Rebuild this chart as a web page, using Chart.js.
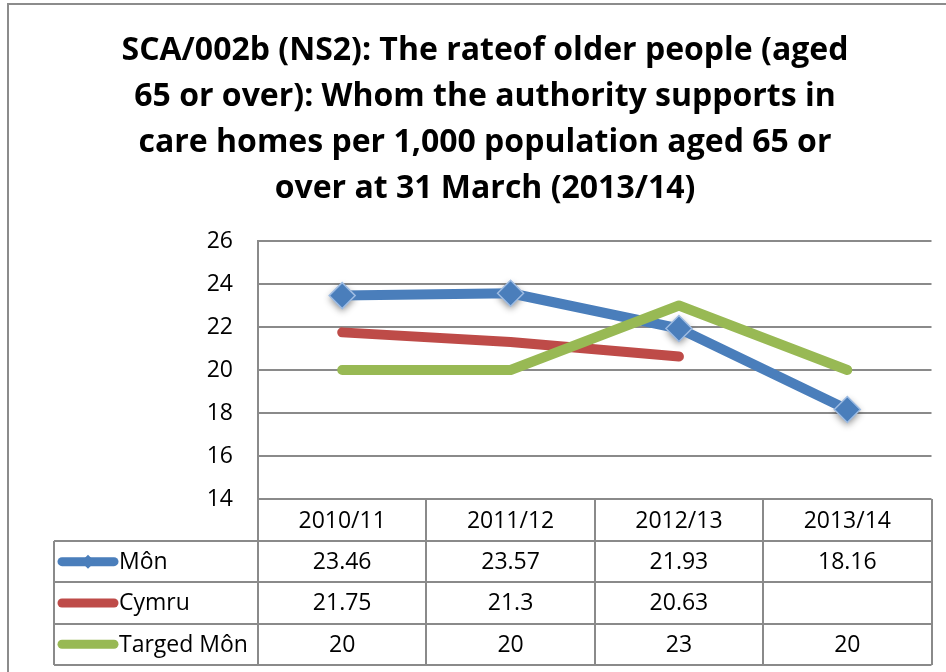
<!DOCTYPE html>
<html><head><meta charset="utf-8">
<script src="https://cdn.jsdelivr.net/npm/chart.js@4"></script>
<style>html,body{margin:0;padding:0;background:#fff}</style>
</head><body>
<canvas id="c" width="946" height="672"></canvas>
<script>
const categories = ['2010/11', '2011/12', '2012/13', '2013/14'];
const monValues = [23.46, 23.57, 21.93, 18.16];
const cymruValues = [21.75, 21.3, 20.63, null];
const targetValues = [20, 20, 23, 20];
const seriesNames = ['Môn', 'Cymru', 'Targed Môn'];
const yTicks = [14, 16, 18, 20, 22, 24, 26];
const titleLines = [
  'SCA/002b (NS2): The rateof older people (aged',
  '65 or over): Whom the authority supports in',
  'care homes per 1,000 population aged 65 or',
  'over at 31 March (2013/14)'
];

const BLUE = '#4A7EBB', RED = '#BE4B48', GREEN = '#98B954';
const GRID = '#8a8a8a';
const FONT = '"Open Sans", Lato, "Liberation Sans", sans-serif';

const tablePlugin = {
  id: 'tablePlugin',
  beforeDatasetsDraw(chart) {
    const ctx = chart.ctx;
    const meta = chart.getDatasetMeta(0);
    meta.data.forEach(p => {
      ctx.save();
      ctx.shadowColor = 'rgba(0,0,0,0.45)';
      ctx.shadowBlur = 7;
      ctx.shadowOffsetY = 3;
      ctx.fillStyle = '#ffffff';
      ctx.beginPath();
      const r = 13;
      ctx.moveTo(p.x, p.y - r); ctx.lineTo(p.x + r, p.y); ctx.lineTo(p.x, p.y + r); ctx.lineTo(p.x - r, p.y);
      ctx.closePath(); ctx.fill();
      ctx.restore();
    });
  },
  afterDraw(chart) {
    const ctx = chart.ctx;
    const area = chart.chartArea;
    const xs = chart.scales.x;
    const n = categories.length;
    const colW = (area.right - area.left) / n;
    const tableLeft = 54;
    const headerBottom = area.bottom + 42;
    const rowH = 41.3;
    const tableBottom = headerBottom + rowH * seriesNames.length;

    ctx.save();
    ctx.strokeStyle = '#8c8c8c';
    ctx.lineWidth = 2;
    ctx.strokeRect(8, 4, 1200, 1200);

    ctx.fillStyle = '#000';
    ctx.font = 'bold 32px ' + FONT;
    ctx.textAlign = 'center';
    ctx.textBaseline = 'alphabetic';
    titleLines.forEach((t, i) => ctx.fillText(t, 485, 60 + i * 46));

    ctx.strokeStyle = GRID;
    ctx.lineWidth = 2;
    ctx.beginPath();
    for (let i = 0; i <= n; i++) {
      const x = Math.round(area.left + i * colW);
      ctx.moveTo(x, area.bottom); ctx.lineTo(x, tableBottom);
    }
    for (let r = 0; r <= seriesNames.length; r++) {
      const y = Math.round(headerBottom + r * rowH);
      ctx.moveTo(tableLeft, y); ctx.lineTo(area.right, y);
    }
    ctx.moveTo(tableLeft, headerBottom); ctx.lineTo(tableLeft, tableBottom);
    ctx.stroke();

    ctx.font = '23px ' + FONT;
    ctx.textBaseline = 'middle';
    ctx.textAlign = 'center';
    categories.forEach((c, i) => {
      ctx.fillText(c, xs.getPixelForValue(i), (area.bottom + headerBottom) / 2 + 1);
    });

    const datasets = chart.data.datasets;
    datasets.forEach((ds, r) => {
      const yc = headerBottom + r * rowH + rowH / 2 + 1;
      ctx.strokeStyle = ds.borderColor;
      ctx.lineWidth = 9;
      ctx.lineCap = 'round';
      ctx.beginPath(); ctx.moveTo(62, yc - 1); ctx.lineTo(114, yc - 1); ctx.stroke();
      if (r === 0) {
        ctx.fillStyle = ds.backgroundColor;
        const k = 7;
        ctx.beginPath();
        ctx.moveTo(88, yc - 1 - k); ctx.lineTo(88 + k, yc - 1); ctx.lineTo(88, yc - 1 + k); ctx.lineTo(88 - k, yc - 1);
        ctx.closePath(); ctx.fill();
      }
      ctx.fillStyle = '#000';
      ctx.textAlign = 'left';
      ctx.fillText(seriesNames[r], 119, yc);
      ctx.textAlign = 'center';
      ds.data.forEach((v, i) => {
        if (v === null || v === undefined) return;
        ctx.fillText(String(v), xs.getPixelForValue(i), yc);
      });
    });
    ctx.restore();
  }
};

new Chart(document.getElementById('c'), {
  type: 'line',
  data: {
    labels: categories,
    datasets: [
      { label: seriesNames[0], data: monValues, borderColor: BLUE, backgroundColor: BLUE,
        borderWidth: 10, borderCapStyle: 'round', borderJoinStyle: 'round',
        pointStyle: 'rectRot', pointRadius: 13, pointBackgroundColor: BLUE,
        pointBorderColor: '#9dbbe2', pointBorderWidth: 1.5, order: 3, tension: 0 },
      { label: seriesNames[1], data: cymruValues, borderColor: RED, backgroundColor: RED,
        borderWidth: 10, borderCapStyle: 'round', borderJoinStyle: 'round',
        pointRadius: 0, order: 2, tension: 0 },
      { label: seriesNames[2], data: targetValues, borderColor: GREEN, backgroundColor: GREEN,
        borderWidth: 10, borderCapStyle: 'round', borderJoinStyle: 'round',
        pointRadius: 0, order: 1, tension: 0 }
    ]
  },
  options: {
    responsive: false,
    animation: false,
    devicePixelRatio: 1,
    layout: { padding: { top: 241, left: 0, right: 14, bottom: 173 } },
    plugins: { legend: { display: false }, title: { display: false }, tooltip: { enabled: false } },
    scales: {
      x: {
        type: 'category', offset: true,
        ticks: { display: false },
        grid: { display: false },
        border: { display: false },
        afterFit(s) { s.height = 0; }
      },
      y: {
        min: 14, max: 26,
        afterBuildTicks(s) { s.ticks = yTicks.map(v => ({ value: v })); },
        ticks: { color: '#000', font: { family: FONT, size: 23 }, padding: 25 },
        grid: { color: GRID, lineWidth: 2, drawTicks: false },
        border: { display: true, color: GRID, width: 2 },
        afterFit(s) { s.width = 258; }
      }
    }
  },
  plugins: [tablePlugin]
});
</script>
</body></html>
